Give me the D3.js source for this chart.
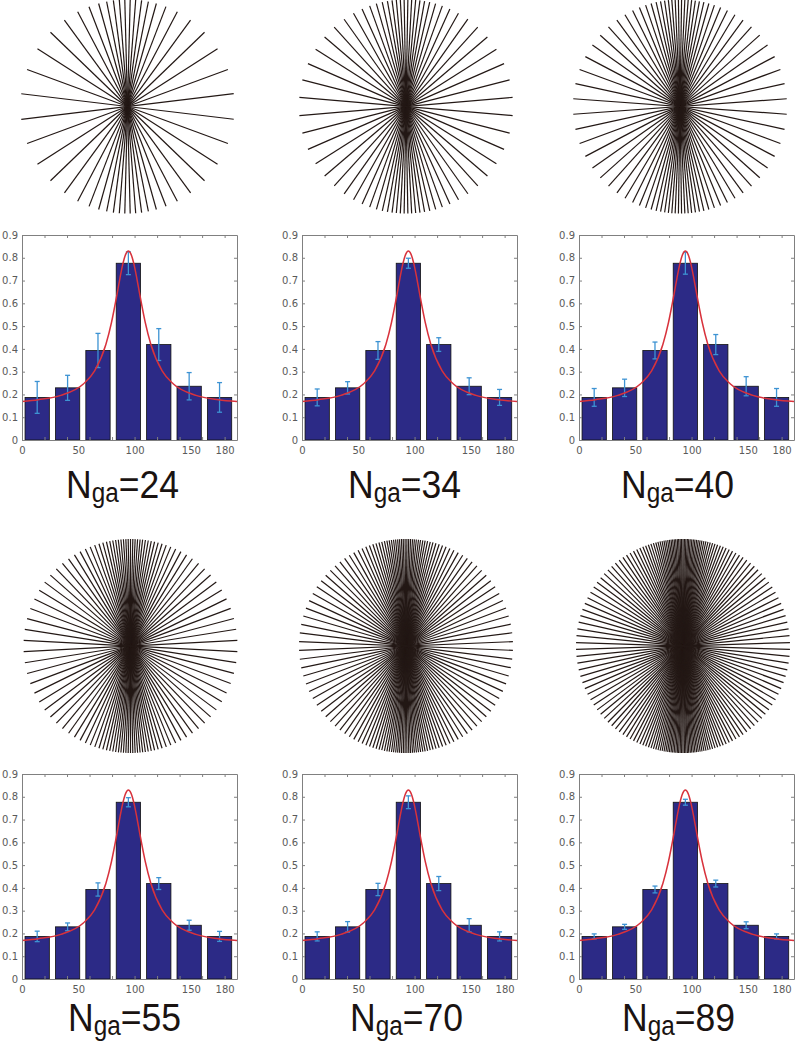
<!DOCTYPE html>
<html>
<head>
<meta charset="utf-8">
<script src="https://cdn.jsdelivr.net/npm/d3@7"></script>
<style>
  html, body { margin: 0; padding: 0; background: #fff; }
  svg { display: block; }
</style>
</head>
<body>
<svg id="chart" width="800" height="1043"></svg>
<script>
// ---------------- DATA ----------------
const nValues = [24, 34, 40, 55, 70, 89];
// bin centres on the x axis
const binCenters = [13.5, 40.5, 67.5, 94.5, 121.5, 148.5, 175.5];
const barValues = [0.187, 0.229, 0.393, 0.776, 0.419, 0.236, 0.187];
// error bar half-lengths per panel
const err24 = [0.070, 0.055, 0.075, 0.050, 0.070, 0.060, 0.065];
const err34 = [0.037, 0.027, 0.039, 0.022, 0.030, 0.037, 0.035];
const err40 = [0.039, 0.038, 0.037, 0.048, 0.044, 0.042, 0.039];
const err55 = [0.023, 0.017, 0.029, 0.020, 0.026, 0.022, 0.022];
const err70 = [0.020, 0.023, 0.027, 0.028, 0.031, 0.029, 0.020];
const err89 = [0.011, 0.011, 0.015, 0.013, 0.015, 0.015, 0.011];
// fitted curve
const curveX = [0, 14.5, 34.5, 54.5, 64.5, 74.5, 79.5, 84.5, 87, 89.5, 92, 94.5, 97, 99.5, 102, 104.5, 109.5, 114.5, 124.5, 134.5, 154.5, 174.5, 191];
const curveY = [0.169, 0.177, 0.196, 0.246, 0.303, 0.419, 0.516, 0.642, 0.710, 0.771, 0.814, 0.830, 0.814, 0.771, 0.710, 0.642, 0.516, 0.419, 0.303, 0.246, 0.196, 0.177, 0.169];
// tick labels
const xTickLabels = [0, 50, 100, 150, 180];
const xMinorTicks = [0, 20, 40, 60, 80, 100, 120, 140, 160, 180];
const yTicks = [0, 0.1, 0.2, 0.3, 0.4, 0.5, 0.6, 0.7, 0.8, 0.9];

const errSets = [err24, err34, err40, err55, err70, err89];

// ---------------- LAYOUT ----------------
const histLeft = [22, 302, 579];
const histTop = [235, 774];
const histW = 215, histH = 205;
const starCX = [[127.5, 406, 680], [130.5, 406, 683]];
const starCY = [106.5, 646];
const starR = 107;
const labelX = [[66, 348, 621], [68, 350, 622]];
const labelY = [498, 1031];

const svg = d3.select("#chart");
const axisGrey = "#808080";
const tickFont = "DejaVu Sans, sans-serif";

const x = d3.scaleLinear().domain([0, 191]).range([0, histW]);
const y = d3.scaleLinear().domain([0, 0.9]).range([histH, 0]);
const angle = d3.scaleLinear().domain([0, 180]).range([0, Math.PI]);

// orientation density of the star lines follows the fitted curve
const curveScale = d3.scaleLinear().domain(curveX).range(curveY);
const orientToCurve = d3.scaleLinear().domain([0, 90, 180]).range([0, 94.5, 189]);
const grid = d3.range(0, 180.0001, 0.05);
const dens = grid.map(t => curveScale(orientToCurve(t)));
const cum = Array.from(d3.cumsum(dens));
const total = cum[cum.length - 1];
function starAngles(n) {
  const out = [];
  for (let i = 0; i < n; i++) {
    const q = (i + 0.5) / n * total;
    const k = d3.bisectLeft(cum, q);
    out.push(grid[Math.min(k, grid.length - 1)]);
  }
  return out;
}

nValues.forEach((n, p) => {
  const row = Math.floor(p / 3), col = p % 3;

  // ---- star ----
  const angles = starAngles(n);
  const cx = starCX[row][col], cy = starCY[row];
  const rScale = d3.scaleLinear().domain([-1, 1]).range([-starR, starR]);
  svg.append("g")
    .selectAll("line").data(angles).join("line")
    .attr("x1", d => cx - rScale(Math.cos(angle(d))))
    .attr("y1", d => cy + rScale(Math.sin(angle(d))))
    .attr("x2", d => cx + rScale(Math.cos(angle(d))))
    .attr("y2", d => cy - rScale(Math.sin(angle(d))))
    .attr("stroke", "#231815")
    .attr("stroke-width", 1.2);

  // ---- histogram ----
  const g = svg.append("g").attr("transform", `translate(${histLeft[col]},${histTop[row]})`);
  const bw = x(21.6) - x(0);
  g.selectAll("rect.bar").data(barValues).join("rect")
    .attr("class", "bar")
    .attr("x", (d, i) => x(binCenters[i]) - bw / 2)
    .attr("y", d => y(d))
    .attr("width", bw)
    .attr("height", d => y(0) - y(d))
    .attr("fill", "#2c2a86")
    .attr("stroke", "#111")
    .attr("stroke-width", 0.8);

  // error bars
  const errs = errSets[p];
  const eb = g.append("g").attr("stroke", "#3d93d3").attr("stroke-width", 1.3);
  barValues.forEach((v, i) => {
    const ex = x(binCenters[i]);
    const y1 = y(v + errs[i]), y2 = y(v - errs[i]);
    eb.append("line").attr("x1", ex).attr("x2", ex).attr("y1", y1).attr("y2", y2);
    eb.append("line").attr("x1", ex - 2.5).attr("x2", ex + 2.5).attr("y1", y1).attr("y2", y1);
    eb.append("line").attr("x1", ex - 2.5).attr("x2", ex + 2.5).attr("y1", y2).attr("y2", y2);
  });

  // fitted curve
  const pts = curveX.map((cxv, i) => [cxv, curveY[i]]);
  g.append("path")
    .attr("d", d3.line().x(d => x(d[0])).y(d => y(d[1])).curve(d3.curveMonotoneX)(pts))
    .attr("fill", "none")
    .attr("stroke", "#d8323c")
    .attr("stroke-width", 1.5);

  // axes
  const styleAxis = sel => {
    sel.selectAll("path.domain").attr("stroke", axisGrey).attr("stroke-width", 1);
    sel.selectAll(".tick line").attr("stroke", axisGrey);
    sel.selectAll("text").attr("fill", "#5a5a5a").style("font-family", tickFont).style("font-size", "10px");
  };
  g.append("g").attr("transform", `translate(0,${histH})`)
    .call(d3.axisBottom(x).tickValues(xMinorTicks).tickSizeInner(-3).tickSizeOuter(0).tickFormat(""))
    .call(styleAxis);
  g.append("g").attr("transform", `translate(0,${histH})`)
    .call(d3.axisBottom(x).tickValues(xTickLabels).tickSize(0).tickPadding(7).tickFormat(d3.format("d")))
    .call(styleAxis)
    .call(s => s.select("path.domain").remove());
  g.append("g")
    .call(d3.axisTop(x).tickValues(xMinorTicks).tickSizeInner(-3).tickSizeOuter(0).tickFormat(""))
    .call(styleAxis);
  g.append("g")
    .call(d3.axisLeft(y).tickValues(yTicks).tickSizeInner(-3).tickSizeOuter(0).tickPadding(4)
      .tickFormat(d => d === 0 ? "0" : d3.format(".1f")(d)))
    .call(styleAxis);
  g.append("g").attr("transform", `translate(${histW},0)`)
    .call(d3.axisRight(y).tickValues(yTicks).tickSizeInner(-3).tickSizeOuter(0).tickFormat(""))
    .call(styleAxis);

  // label
  const lx = labelX[row][col], ly = labelY[row];
  const t = svg.append("text")
    .attr("transform", `translate(${lx},${ly}) scale(0.9,1)`)
    .attr("fill", "#1a1311")
    .style("font-family", "Liberation Sans, Arial, sans-serif")
    .style("font-size", "39.5px");
  t.append("tspan").text("N");
  t.append("tspan").attr("dy", 4).style("font-size", "27px").text("ga");
  t.append("tspan").attr("dy", -4).text("=" + n);
});
</script>
</body>
</html>
